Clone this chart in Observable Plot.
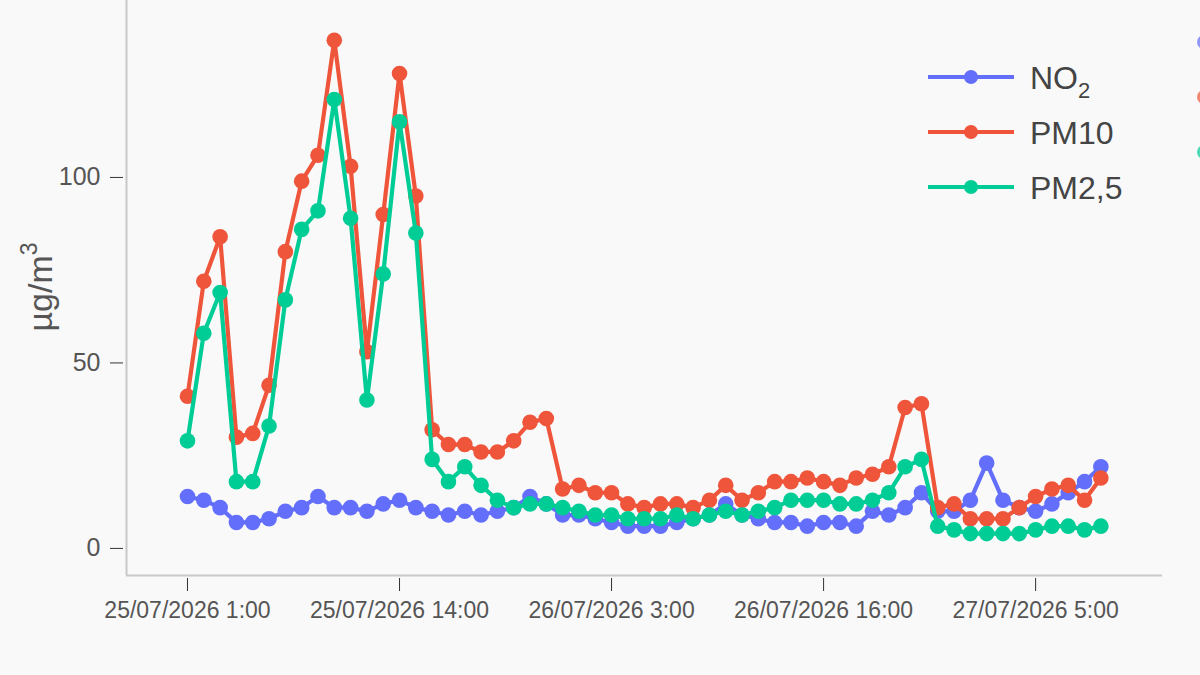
<!DOCTYPE html>
<html>
<head>
<meta charset="utf-8">
<script src="https://cdn.jsdelivr.net/npm/d3@7"></script>
<script src="https://cdn.jsdelivr.net/npm/@observablehq/plot@0.6"></script>
<style>
  html, body { margin: 0; padding: 0; background: #f9f9f9; }
  #wrap { position: relative; width: 1200px; height: 675px; overflow: hidden; font-family: "Liberation Sans", Arial, sans-serif; }
  #legend { position: absolute; left: 0; top: 0; pointer-events: none; }
  #chart svg { display: block; }
</style>
</head>
<body>
<div id="wrap">
  <div id="chart"></div>
  <svg id="legend" width="1200" height="675"></svg>
</div>
<script>
// ---- data (hourly, starting 25/07/2026 1:00) ----
const seriesNames = ["NO2", "PM10", "PM2,5"];
const colors = ["#636EFA", "#EF553B", "#00CC96"];

const no2 = [14,13,11,7,7,8,10,11,14,11,11,10,12,13,11,
             10,9,10,9,10,11,14,12,9,9,8,7,6,6,6,7,8,
             9,12,9,8,7,7,6,7,7,6,10,9,11,15,
             10,10,13,23,13,11,10,12,15,18,22];
const pm10 = [41,72,84,30,31,44,80,99,106,137,103,53,90,128,95,
              32,28,28,26,26,29,34,35,16,17,15,15,12,11,12,12,11,
              13,17,13,15,18,18,19,18,17,19,20,22,38,39,
              11,12,8,8,8,11,14,16,17,13,19];
const pm25 = [29,58,69,18,18,33,67,86,91,121,89,40,74,115,85,
              24,18,22,17,13,11,12,12,11,10,9,9,8,8,8,9,8,
              9,10,9,10,11,13,13,13,12,12,13,15,22,24,
              6,5,4,4,4,4,5,6,6,5,6];

// x tick positions (hour index) and their labels
const tickHours = [0, 13, 26, 39, 52];
const tickLabels = ["25/07/2026 1:00", "25/07/2026 14:00", "26/07/2026 3:00", "26/07/2026 16:00", "27/07/2026 5:00"];
const yTicks = [0, 50, 100];

// ---- build table ----
const allValues = [no2, pm10, pm25];
const rows = [];
allValues.forEach((vals, s) => vals.forEach((v, i) => rows.push({hour: i, value: v, series: seriesNames[s]})));

const xDomain = [-3.74, 59.78];
const yDomain = [-7.3, 147.7];

const seriesMarks = [];
seriesNames.forEach((name, s) => {
  const d = rows.filter(r => r.series === name);
  seriesMarks.push(Plot.line(d, {x: "hour", y: "value", stroke: colors[s], strokeWidth: 4.2, strokeLinejoin: "round"}));
  seriesMarks.push(Plot.dot(d, {x: "hour", y: "value", fill: colors[s], r: 7.8, stroke: "none"}));
});

const chart = Plot.plot({
  width: 1200,
  height: 675,
  marginLeft: 126,
  marginRight: 38,
  marginTop: 0,
  marginBottom: 100,
  style: {background: "transparent", fontFamily: "'Liberation Sans', Arial, sans-serif", color: "#444", overflow: "visible"},
  x: {domain: xDomain, axis: null},
  y: {domain: yDomain, axis: null},
  marks: [
    Plot.ruleX([xDomain[0]], {stroke: "#c8c8c8", strokeWidth: 2}),
    Plot.ruleY([yDomain[0]], {stroke: "#c8c8c8", strokeWidth: 2}),
    Plot.axisY(yTicks, {tickSize: 13, tickPadding: 10, dx: -3, fontSize: 25, label: null, color: "#555", stroke: "#333"}),
    Plot.axisX(tickHours, {tickSize: 13, tickPadding: 10, dy: 3, fontSize: 23, label: null, color: "#555", stroke: "#333",
      tickFormat: (h) => tickLabels[tickHours.indexOf(h)]}),
    ...seriesMarks
  ]
});
document.getElementById("chart").appendChild(chart);

// ---- y axis title and legend ----
const lg = d3.select("#legend");
const yTitle = lg.append("text")
  .attr("transform", "translate(52,287) rotate(-90)")
  .attr("text-anchor", "middle")
  .attr("font-family", "'Liberation Sans', Arial, sans-serif")
  .attr("font-size", 34).attr("fill", "#555");
yTitle.append("tspan").text("µg/m");
yTitle.append("tspan").attr("font-size", 23).attr("dy", -15).text("3");

// partially visible markers of a neighbouring legend at the right edge
[42, 97, 152].forEach((cy, s) => {
  lg.append("circle").attr("cx", 1204).attr("cy", cy).attr("r", 7).attr("fill", colors[s]).attr("opacity", 0.7);
});

const legendY = [77, 132, 187];
seriesNames.forEach((name, s) => {
  const g = lg.append("g").attr("transform", `translate(0,${legendY[s]})`);
  g.append("line").attr("x1", 928).attr("x2", 1014).attr("y1", 0).attr("y2", 0)
    .attr("stroke", colors[s]).attr("stroke-width", 4);
  g.append("circle").attr("cx", 971).attr("cy", 0).attr("r", 7).attr("fill", colors[s]);
  const t = g.append("text").attr("x", 1030).attr("y", 12)
    .attr("font-family", "'Liberation Sans', Arial, sans-serif").attr("font-size", 32).attr("fill", "#444");
  if (name === "NO2") {
    t.append("tspan").text("NO");
    t.append("tspan").attr("font-size", 22).attr("dy", 9).text("2");
  } else {
    t.text(name);
  }
});
</script>
</body>
</html>
